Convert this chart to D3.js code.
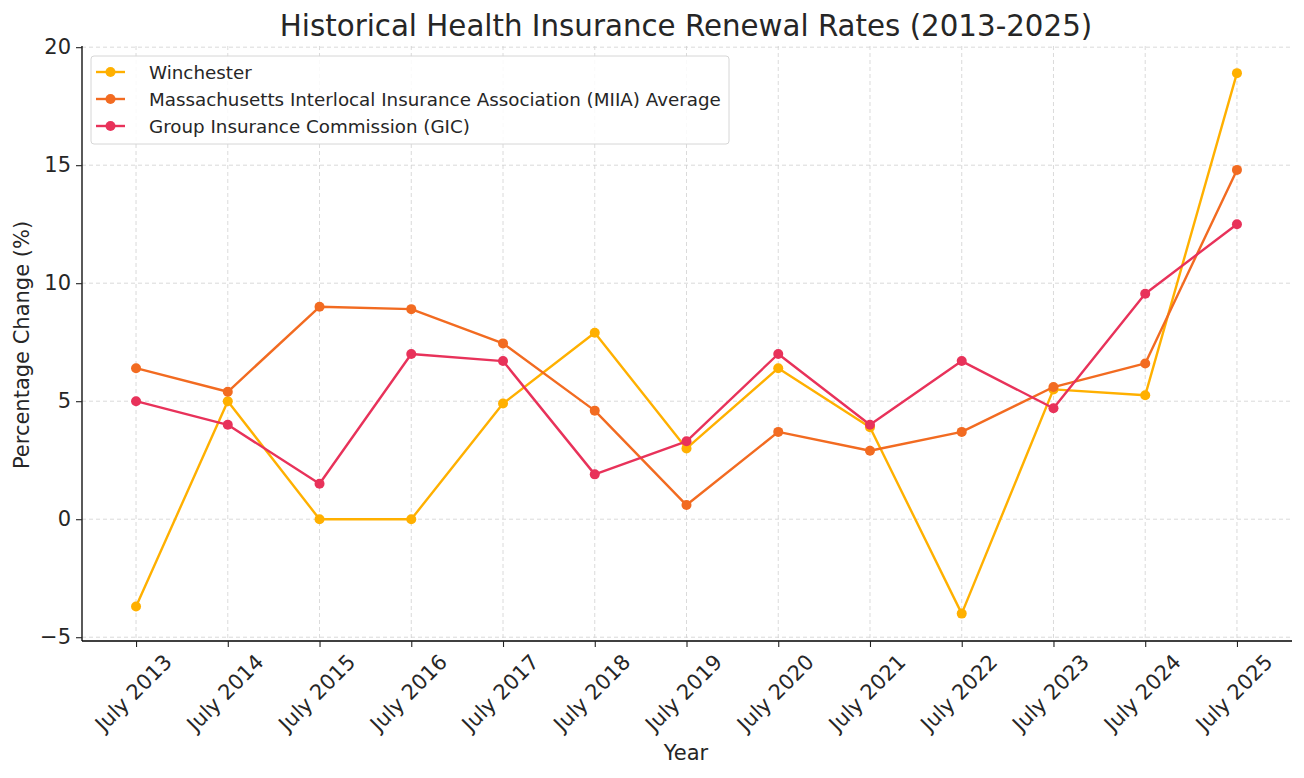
<!DOCTYPE html>
<html>
<head>
<meta charset="utf-8">
<script src="https://cdn.jsdelivr.net/npm/d3@7"></script>
<style>
	body { margin: 0; background: #fff; }
	text { font-family: "DejaVu Sans", sans-serif; fill: #262626; }
	.grid line { stroke: #d0d0d0; stroke-dasharray: 4,3; stroke-width: 0.8; }
</style>
</head>
<body>
<svg id="chart" width="1304" height="778"></svg>
<script>
// data
var years = ["July 2013", "July 2014", "July 2015", "July 2016", "July 2017", "July 2018", "July 2019",
	"July 2020", "July 2021", "July 2022", "July 2023", "July 2024", "July 2025"];
var winchester = [-3.7, 5.0, 0.0, 0.0, 4.9, 7.9, 3.0, 6.4, 3.9, -4.0, 5.5, 5.25, 18.9];
var miia = [6.4, 5.4, 9.0, 8.9, 7.45, 4.6, 0.6, 3.7, 2.9, 3.7, 5.6, 6.6, 14.8];
var gic = [5.0, 4.0, 1.5, 7.0, 6.7, 1.9, 3.3, 7.0, 4.0, 6.7, 4.7, 9.55, 12.5];
var yTicks = [-5, 0, 5, 10, 15, 20];

var seriesNames = ["Winchester", "Massachusetts Interlocal Insurance Association (MIIA) Average", "Group Insurance Commission (GIC)"];
var seriesColors = ["#ffb000", "#f26b21", "#e8325a"];
var seriesValues = [winchester, miia, gic];

var plotL = 82, plotR = 1292, plotT = 46, plotB = 641;

var svg = d3.select("#chart");

var x = d3.scaleLinear().domain([-0.6, years.length - 1 + 0.6]).range([plotL - 1, plotR]);
var y = d3.scaleLinear().domain([-5.16, 20.05]).range([plotB, plotT]);

// grid
var grid = svg.append("g").attr("class", "grid");
grid.selectAll("line.v").data(years).enter().append("line")
	.attr("x1", function(d, i) { return x(i); })
	.attr("x2", function(d, i) { return x(i); })
	.attr("y1", plotT).attr("y2", plotB);
grid.selectAll("line.h").data(yTicks).enter().append("line")
	.attr("x1", plotL).attr("x2", plotR)
	.attr("y1", function(d) { return y(d); })
	.attr("y2", function(d) { return y(d); });

// axes
var yAxis = svg.append("g")
	.attr("transform", "translate(" + plotL + ",0)")
	.call(d3.axisLeft(y).tickValues(yTicks).tickSize(6).tickPadding(5).tickFormat(function(d) { return d < 0 ? "\u2212" + Math.abs(d) : d; }));
yAxis.select(".domain").attr("d", "M0," + plotT + "V" + plotB).attr("stroke", "#000").attr("stroke-width", 1.3);
yAxis.selectAll("text").style("font-size", "21px").style("font-family", "DejaVu Sans").attr("fill", "#262626");
yAxis.selectAll(".tick line").attr("stroke", "#222").attr("stroke-width", 1.1);

var xAxis = svg.append("g")
	.attr("transform", "translate(0," + plotB + ")")
	.call(d3.axisBottom(x).tickValues(d3.range(years.length)).tickSize(6).tickFormat(function(i) { return years[i]; }));
xAxis.select(".domain").attr("d", "M" + plotL + ",0H" + plotR).attr("stroke", "#000").attr("stroke-width", 1.3);
xAxis.selectAll(".tick line").attr("stroke", "#222").attr("stroke-width", 1.1);
xAxis.selectAll("text")
	.style("font-size", "21px").style("font-family", "DejaVu Sans").attr("fill", "#262626")
	.attr("text-anchor", "middle")
	.attr("dy", null)
	.attr("y", 0)
	.attr("dominant-baseline", "central")
	.attr("transform", "translate(-3,52) rotate(-45)");

// lines and markers
var line = d3.line()
	.x(function(d, i) { return x(i); })
	.y(function(d) { return y(d); });

seriesValues.forEach(function(vals, k) {
	var g = svg.append("g");
	g.append("path")
		.datum(vals)
		.attr("d", line)
		.attr("fill", "none")
		.attr("stroke", seriesColors[k])
		.attr("stroke-width", 2.4)
		.attr("stroke-linejoin", "round");
	g.selectAll("circle").data(vals).enter().append("circle")
		.attr("cx", function(d, i) { return x(i); })
		.attr("cy", function(d) { return y(d); })
		.attr("r", 5)
		.attr("fill", seriesColors[k]);
});

// legend
var legend = svg.append("g").attr("transform", "translate(91,56)");
legend.append("rect")
	.attr("width", 638).attr("height", 88).attr("rx", 3)
	.attr("fill", "#fff").attr("fill-opacity", 0.85)
	.attr("stroke", "#d6d6d6");
seriesNames.forEach(function(name, k) {
	var ly = 16 + k * 27;
	legend.append("line").attr("x1", 5).attr("x2", 34).attr("y1", ly).attr("y2", ly)
		.attr("stroke", seriesColors[k]).attr("stroke-width", 2.4);
	legend.append("circle").attr("cx", 19.5).attr("cy", ly).attr("r", 5).attr("fill", seriesColors[k]);
	legend.append("text").attr("x", 58).attr("y", ly).attr("dominant-baseline", "central")
		.style("font-size", "18.3px").text(name);
});

// titles
svg.append("text").attr("x", 686).attr("y", 36).attr("text-anchor", "middle")
	.style("font-size", "29.3px").text("Historical Health Insurance Renewal Rates (2013-2025)");
svg.append("text").attr("x", 686).attr("y", 760).attr("text-anchor", "middle")
	.style("font-size", "21px").text("Year");
svg.append("text").attr("transform", "translate(29,345) rotate(-90)").attr("text-anchor", "middle")
	.style("font-size", "21px").text("Percentage Change (%)");
</script>
</body>
</html>
